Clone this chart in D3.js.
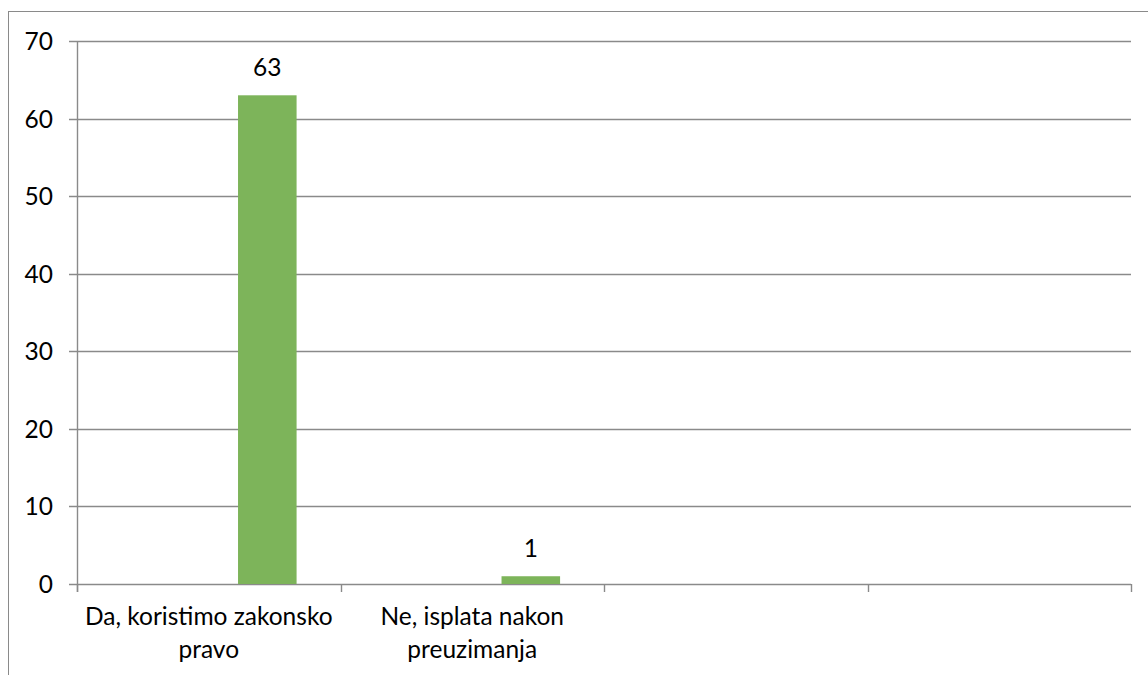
<!DOCTYPE html>
<html>
<head>
<meta charset="utf-8">
<script src="https://cdn.jsdelivr.net/npm/d3@7"></script>
<style>
  html, body { margin: 0; padding: 0; background: #fff; }
  svg { display: block; }
  text { font-family: Lato, "Open Sans", sans-serif; fill: #000; }
</style>
</head>
<body>
<svg id="chart" width="1148" height="675"></svg>
<script>
// Answer categories along the x axis
const categories = [
  "Da, koristimo zakonsko pravo",
  "Ne, isplata nakon preuzimanja",
  "",
  ""
];
// Category labels split into their two drawn lines
const categoryLines = [
  ["Da, koristimo zakonsko", "pravo"],
  ["Ne, isplata nakon", "preuzimanja"],
  [],
  []
];
// Three series slots per category; only the third carries answers
const seriesKeys = ["Serija 1", "Serija 2", "Serija 3"];
const series1 = [null, null, null, null];
const series2 = [null, null, null, null];
const series3 = [63, 1, null, null];
const yTicks = [0, 10, 20, 30, 40, 50, 60, 70];

const seriesValues = [series1, series2, series3];
const barColor = "#7db45a";
const gridColor = "#8a8a8a";
const fontSize = 24.5;

const svg = d3.select("#chart");
const W = 1148, H = 675;
const plot = { left: 77, right: 1131, top: 41, bottom: 584 };

// Outer chart border (runs past the right and bottom edges)
svg.append("rect")
  .attr("x", 8.5).attr("y", 11.5)
  .attr("width", W).attr("height", H)
  .attr("fill", "none").attr("stroke", gridColor).attr("stroke-width", 1);

const x = d3.scaleBand()
  .domain(d3.range(categories.length))
  .range([plot.left, plot.right])
  .paddingInner(0).paddingOuter(0);

// Clustered slots inside each category (gap width 150%)
const xSub = d3.scaleBand()
  .domain(seriesKeys)
  .range([0, x.bandwidth()])
  .paddingInner(0).paddingOuter(0.75);

const y = d3.scaleLinear().domain([0, 70]).range([plot.bottom, plot.top]);

// Horizontal gridlines with left tick marks
const gy = svg.append("g");
yTicks.forEach(t => {
  const yy = Math.round(y(t)) + 0.5;
  gy.append("line")
    .attr("x1", plot.left - 8).attr("x2", plot.right)
    .attr("y1", yy).attr("y2", yy)
    .attr("stroke", gridColor).attr("stroke-width", 1.4);
  gy.append("text")
    .attr("x", 53).attr("y", yy)
    .attr("dy", "0.36em")
    .attr("text-anchor", "end")
    .attr("font-size", fontSize)
    .text(t);
});

// Vertical axis line
svg.append("line")
  .attr("x1", plot.left + 0.5).attr("x2", plot.left + 0.5)
  .attr("y1", plot.top).attr("y2", plot.bottom + 8)
  .attr("stroke", gridColor).attr("stroke-width", 1.4);

// Category boundary ticks below the baseline
const boundaries = d3.range(categories.length + 1).map(i =>
  i < categories.length ? x(i) : x(categories.length - 1) + x.bandwidth());
boundaries.forEach(bx => {
  const xx = Math.round(bx) + 0.5;
  svg.append("line")
    .attr("x1", xx).attr("x2", xx)
    .attr("y1", Math.round(y(0))).attr("y2", Math.round(y(0)) + 8)
    .attr("stroke", gridColor).attr("stroke-width", 1.4);
});

// Bars and value labels
seriesKeys.forEach((key, si) => {
  const vals = seriesValues[si];
  vals.forEach((v, ci) => {
    if (v == null) return;
    const bx = x(ci) + xSub(key);
    svg.append("rect")
      .attr("x", bx).attr("y", y(v))
      .attr("width", xSub.bandwidth())
      .attr("height", y(0) - y(v))
      .attr("fill", barColor);
    svg.append("text")
      .attr("x", bx + xSub.bandwidth() / 2)
      .attr("y", y(v) - 19)
      .attr("text-anchor", "middle")
      .attr("font-size", fontSize)
      .text(v);
  });
});

// Category labels
categoryLines.forEach((lines, ci) => {
  const cx = x(ci) + x.bandwidth() / 2;
  lines.forEach((ln, li) => {
    svg.append("text")
      .attr("x", cx)
      .attr("y", y(0) + 41 + li * 33)
      .attr("text-anchor", "middle")
      .attr("font-size", fontSize)
      .text(ln);
  });
});
</script>
</body>
</html>
